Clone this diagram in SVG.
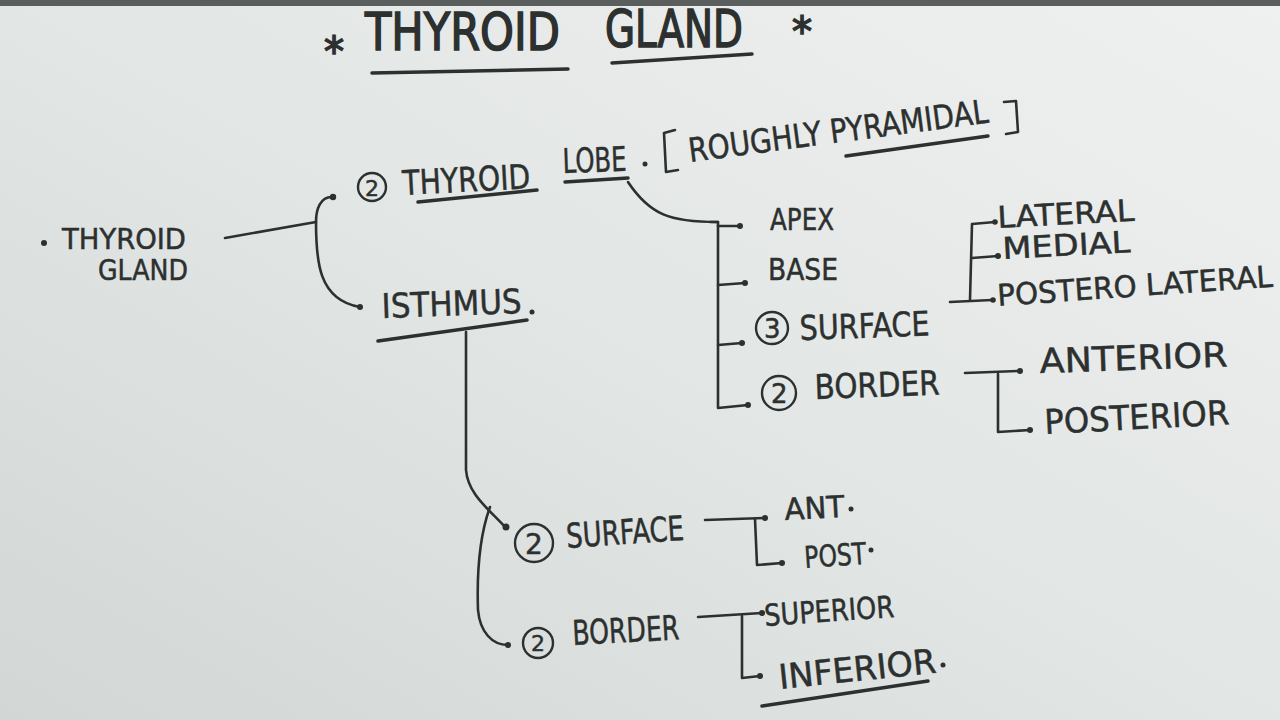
<svg xmlns="http://www.w3.org/2000/svg" width="1280" height="720" viewBox="0 0 1280 720">
<defs>
<linearGradient id="paper" x1="1" y1="0" x2="0" y2="1">
<stop offset="0" stop-color="#eff1f0"/>
<stop offset="0.5" stop-color="#e2e6e5"/>
<stop offset="1" stop-color="#d2d7d6"/>
</linearGradient>
<style>
.t{font-family:"DejaVu Sans","Liberation Sans",sans-serif;fill:#2c302f;stroke:#2c302f;stroke-width:0.5;}
.title{font-size:52px;stroke-width:1.6;}
.ast{font-size:40px;stroke-width:1.5;}
.lbl{font-size:34px;}
.sm{font-size:30px;}
.ln{fill:none;stroke:#2c302f;stroke-width:2.6;stroke-linecap:round;stroke-linejoin:round;}
.ul{fill:none;stroke:#2c302f;stroke-width:3.5;stroke-linecap:round;}
.dot{fill:#2c302f;}
.circ{fill:none;stroke:#2c302f;stroke-width:2.4;}
</style>
</defs>
<rect width="1280" height="720" fill="url(#paper)"/>
<rect width="1280" height="6" fill="#5a5e5c"/>

<g id="title">
<text class="t ast" x="324" y="66">*</text>
<text class="t title" x="365" y="50" textLength="195" lengthAdjust="spacingAndGlyphs">THYROID</text>
<text class="t title" x="605" y="47" textLength="138" lengthAdjust="spacingAndGlyphs">GLAND</text>
<text class="t ast" x="792" y="46">*</text>
<path class="ul" d="M372 73 L568 69"/>
<path class="ul" d="M612 63 L752 54"/>
</g>

<g id="thyroid-gland">
<circle class="dot" cx="44" cy="243" r="3"/>
<text class="t" font-size="28" x="62" y="249" textLength="124" lengthAdjust="spacingAndGlyphs">THYROID</text>
<text class="t" font-size="28" x="98" y="280" textLength="90" lengthAdjust="spacingAndGlyphs">GLAND</text>
</g>

<g id="thyroid-lobe">
<circle class="circ" cx="372" cy="187" r="14"/>
<text class="t" x="365" y="196" font-size="22">2</text>
<text class="t lbl" x="403" y="195" transform="rotate(-3 403 195)" textLength="128" lengthAdjust="spacingAndGlyphs">THYROID</text>
<path class="ul" d="M418 202 L537 190"/>
<text class="t lbl" x="563" y="173" transform="rotate(-2 563 173)" textLength="64" lengthAdjust="spacingAndGlyphs">LOBE</text>
<circle class="dot" cx="645" cy="164" r="2.5"/>
<path class="ul" d="M565 182 L628 178"/>
<path class="ln" d="M675 130 L664 133 L666 172 L678 170"/>
<text class="t" font-size="33" x="690" y="162" transform="rotate(-7.5 690 162)" textLength="302" lengthAdjust="spacingAndGlyphs">ROUGHLY PYRAMIDAL</text>
<path class="ln" d="M1004 102 L1016 101 L1018 132 L1006 134"/>
<path class="ul" d="M846 156 L988 136"/>
</g>

<g id="isthmus">
<text class="t lbl" x="382" y="318" transform="rotate(-2 382 318)" textLength="140" lengthAdjust="spacingAndGlyphs">ISTHMUS</text>
<circle class="dot" cx="532" cy="312" r="2.5"/>
<path class="ul" d="M378 341 L527 320"/>
</g>

<g id="apex"><text class="t sm" x="770" y="230" textLength="64" lengthAdjust="spacingAndGlyphs">APEX</text></g>
<g id="base"><text class="t sm" x="768" y="280" textLength="70" lengthAdjust="spacingAndGlyphs">BASE</text></g>
<g id="lobe-surface">
<circle class="circ" cx="772" cy="328" r="16"/>
<text class="t" x="764" y="338" font-size="26">3</text>
<text class="t lbl" x="800" y="340" transform="rotate(-2 800 340)" textLength="130" lengthAdjust="spacingAndGlyphs">SURFACE</text>
</g>
<g id="lobe-border">
<circle class="circ" cx="779" cy="393" r="17"/>
<text class="t" x="771" y="403" font-size="26">2</text>
<text class="t lbl" x="815" y="399" transform="rotate(-2 815 399)" textLength="125" lengthAdjust="spacingAndGlyphs">BORDER</text>
</g>
<g id="lateral"><text class="t sm" x="998" y="228" transform="rotate(-3 998 228)" textLength="137" lengthAdjust="spacingAndGlyphs">LATERAL</text></g>
<g id="medial"><text class="t sm" x="1003" y="259" transform="rotate(-3 1003 259)" textLength="128" lengthAdjust="spacingAndGlyphs">MEDIAL</text></g>
<g id="postero-lateral"><text class="t sm" x="998" y="306" transform="rotate(-4 998 306)" textLength="276" lengthAdjust="spacingAndGlyphs">POSTERO LATERAL</text></g>
<g id="anterior"><text class="t lbl" x="1040" y="373" transform="rotate(-2 1040 373)" textLength="188" lengthAdjust="spacingAndGlyphs">ANTERIOR</text></g>
<g id="posterior"><text class="t lbl" x="1045" y="434" transform="rotate(-3 1045 434)" textLength="185" lengthAdjust="spacingAndGlyphs">POSTERIOR</text></g>

<g id="isthmus-surface">
<circle class="circ" cx="534" cy="543" r="19"/>
<text class="t" x="525" y="554" font-size="28">2</text>
<text class="t lbl" x="567" y="548" transform="rotate(-4 567 548)" textLength="118" lengthAdjust="spacingAndGlyphs">SURFACE</text>
</g>
<g id="ant"><text class="t sm" x="785" y="520" transform="rotate(-3 785 520)" textLength="60" lengthAdjust="spacingAndGlyphs">ANT</text><circle class="dot" cx="851" cy="509" r="2.5"/></g>
<g id="post"><text class="t sm" x="805" y="568" transform="rotate(-4 805 568)" textLength="62" lengthAdjust="spacingAndGlyphs">POST</text><circle class="dot" cx="871" cy="550" r="2.5"/></g>
<g id="isthmus-border">
<circle class="circ" cx="538" cy="643" r="15"/>
<text class="t" x="531" y="651" font-size="22">2</text>
<text class="t lbl" x="573" y="645" transform="rotate(-3 573 645)" textLength="107" lengthAdjust="spacingAndGlyphs">BORDER</text>
</g>
<g id="superior"><text class="t sm" x="765" y="626" transform="rotate(-4 765 626)" textLength="130" lengthAdjust="spacingAndGlyphs">SUPERIOR</text></g>
<g id="inferior">
<text class="t lbl" x="780" y="689" transform="rotate(-6 780 689)" textLength="158" lengthAdjust="spacingAndGlyphs">INFERIOR</text>
<circle class="dot" cx="943" cy="665" r="2.5"/>
<path class="ul" d="M762 706 L928 681"/>
</g>

<g id="connectors">
<path class="ln" d="M225 238 L316 222"/>
<path class="ln" d="M333 197 C320 196 316 210 316 222 C316 260 318 300 360 307"/>
<circle class="dot" cx="333" cy="197" r="3.2"/>
<circle class="dot" cx="360" cy="307" r="3"/>

<path class="ln" d="M628 182 C650 215 670 222 718 222"/>
<path class="ln" d="M710 222 L718 222 L718 408 L748 405"/>
<path class="ln" d="M718 226 L740 226"/>
<path class="ln" d="M718 285 L745 283"/>
<path class="ln" d="M718 345 L742 343"/>
<circle class="dot" cx="740" cy="226" r="3"/>
<circle class="dot" cx="745" cy="283" r="3"/>
<circle class="dot" cx="742" cy="343" r="3"/>
<circle class="dot" cx="748" cy="405" r="3"/>

<path class="ln" d="M950 302 L992 300"/>
<path class="ln" d="M995 222 L972 224 L970 300"/>
<path class="ln" d="M972 258 L998 256"/>
<circle class="dot" cx="995" cy="222" r="2.8"/>
<circle class="dot" cx="998" cy="256" r="3"/>
<circle class="dot" cx="993" cy="300" r="2.8"/>

<path class="ln" d="M965 373 L1020 371"/>
<path class="ln" d="M998 374 L998 432 L1030 430"/>
<circle class="dot" cx="1020" cy="371" r="3"/>
<circle class="dot" cx="1030" cy="430" r="3"/>

<path class="ln" d="M466 332 L466 470 C468 495 490 510 505 527"/>
<circle class="dot" cx="506" cy="527" r="3.5"/>
<path class="ln" d="M490 507 C478 540 477 580 478 610 C480 632 492 645 508 645"/>
<circle class="dot" cx="508" cy="645" r="3"/>

<path class="ln" d="M705 520 L765 518"/>
<path class="ln" d="M755 519 L757 565 L782 563"/>
<circle class="dot" cx="765" cy="518" r="3"/>
<circle class="dot" cx="782" cy="563" r="3"/>

<path class="ln" d="M698 617 L762 613"/>
<path class="ln" d="M742 616 L742 678 L760 676"/>
<circle class="dot" cx="762" cy="613" r="3"/>
<circle class="dot" cx="760" cy="676" r="3"/>
</g>
</svg>
